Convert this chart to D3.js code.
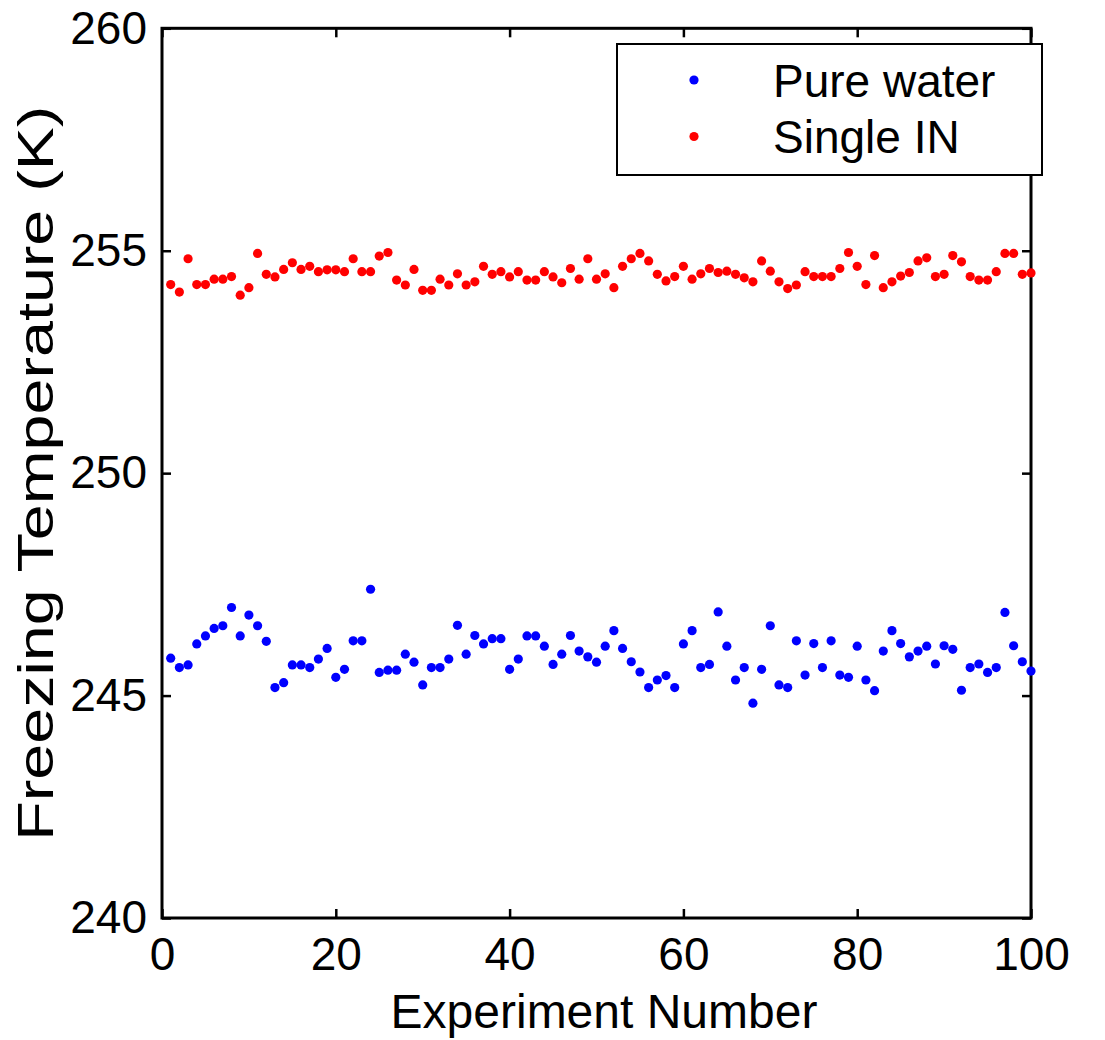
<!DOCTYPE html>
<html>
<head>
<meta charset="utf-8">
<script src="https://cdn.jsdelivr.net/npm/d3@7"></script>
<style>
    body { margin: 0; background: #fff; }
    text { font-family: "Liberation Sans", Arial, sans-serif; }
</style>
</head>
<body>
<svg id="chart"></svg>
<script>
var width = 1105, height = 1040

// freezing temperature (K) per experiment
var pureWater = [
    245.84, 245.63, 245.69, 246.16, 246.34, 246.51, 246.57, 246.98, 246.34, 246.81,
    246.57, 246.22, 245.18, 245.29, 245.69, 245.69, 245.63, 245.82, 246.06, 245.41,
    245.59, 246.23, 246.23, 247.39, 245.52, 245.57, 245.57, 245.93, 245.75, 245.24,
    245.63, 245.63, 245.82, 246.58, 245.93, 246.35, 246.16, 246.28, 246.28, 245.59,
    245.82, 246.34, 246.34, 246.11, 245.70, 245.93, 246.35, 246.00, 245.87, 245.75,
    246.11, 246.46, 246.06, 245.76, 245.53, 245.18, 245.35, 245.45, 245.18, 246.16,
    246.46, 245.63, 245.70, 246.88, 246.11, 245.35, 245.63, 244.83, 245.59, 246.57,
    245.24, 245.18, 246.23, 245.46, 246.17, 245.63, 246.23, 245.46, 245.41, 246.11,
    245.35, 245.11, 246.00, 246.46, 246.17, 245.87, 246.00, 246.11, 245.71, 246.12,
    246.04, 245.12, 245.63, 245.71, 245.52, 245.63, 246.87, 246.12, 245.76, 245.55
]
var singleIN = [
    254.24, 254.07, 254.82, 254.24, 254.24, 254.36, 254.36, 254.42, 254.00, 254.17,
    254.94, 254.47, 254.41, 254.58, 254.73, 254.58, 254.65, 254.53, 254.57, 254.57,
    254.53, 254.82, 254.53, 254.53, 254.88, 254.96, 254.34, 254.23, 254.58, 254.11,
    254.11, 254.36, 254.23, 254.48, 254.23, 254.30, 254.65, 254.47, 254.53, 254.41,
    254.53, 254.34, 254.34, 254.53, 254.41, 254.28, 254.60, 254.36, 254.82, 254.36,
    254.48, 254.17, 254.65, 254.82, 254.94, 254.77, 254.47, 254.32, 254.42, 254.65,
    254.36, 254.48, 254.60, 254.51, 254.54, 254.47, 254.39, 254.30, 254.77, 254.54,
    254.30, 254.15, 254.23, 254.53, 254.42, 254.42, 254.42, 254.60, 254.96, 254.65,
    254.24, 254.89, 254.17, 254.30, 254.43, 254.51, 254.77, 254.84, 254.42, 254.47,
    254.89, 254.75, 254.42, 254.34, 254.34, 254.53, 254.94, 254.94, 254.47, 254.50
]
var xTicks = [0, 20, 40, 60, 80, 100]
var yTicks = [240, 245, 250, 255, 260]
var seriesNames = ["Pure water", "Single IN"]
var seriesColors = ["#0000ff", "#ff0000"]

var margin = {left: 162, right: 1105 - 1031, top: 28.3, bottom: 1040 - 918}

var svg = d3.select("#chart")
    .attr("width", width)
    .attr("height", height)

var x = d3.scaleLinear()
    .domain([0, 100])
    .range([margin.left, width - margin.right])
var y = d3.scaleLinear()
    .domain([240, 260])
    .range([height - margin.bottom, margin.top])

var fontSize = 46

// ticks point inward on all four sides, labels only bottom/left
function styleAxis(g, labels) {
    g.select(".domain").remove()
    g.selectAll(".tick line").attr("stroke", "#000").attr("stroke-width", 2.5)
    if (labels) {
        g.selectAll(".tick text")
            .attr("fill", "#000")
            .attr("font-size", fontSize)
            .attr("font-family", "'Liberation Sans', Arial, sans-serif")
    } else {
        g.selectAll(".tick text").remove()
    }
}

svg.append("g")
    .attr("transform", "translate(0," + y(240) + ")")
    .call(d3.axisBottom(x).tickValues(xTicks).tickSizeInner(-9).tickSizeOuter(0).tickPadding(19))
    .call(g => styleAxis(g, true))
svg.append("g")
    .attr("transform", "translate(0," + y(260) + ")")
    .call(d3.axisTop(x).tickValues(xTicks).tickSizeInner(-9).tickSizeOuter(0))
    .call(g => styleAxis(g, false))
svg.append("g")
    .attr("transform", "translate(" + x(0) + ",0)")
    .call(d3.axisLeft(y).tickValues(yTicks).tickSizeInner(-9).tickSizeOuter(0).tickPadding(15))
    .call(g => styleAxis(g, true))
svg.append("g")
    .attr("transform", "translate(" + x(100) + ",0)")
    .call(d3.axisRight(y).tickValues(yTicks).tickSizeInner(-9).tickSizeOuter(0))
    .call(g => styleAxis(g, false))

svg.append("rect")
    .attr("x", x(0))
    .attr("y", y(260))
    .attr("width", x(100) - x(0))
    .attr("height", y(240) - y(260))
    .attr("fill", "none")
    .attr("stroke", "#000")
    .attr("stroke-width", 3)

var series = [pureWater, singleIN]
series.forEach(function(vals, k) {
    svg.append("g")
        .selectAll("circle")
        .data(vals)
        .enter()
        .append("circle")
            .attr("cx", (d, i) => x(i + 1))
            .attr("cy", d => y(d))
            .attr("r", 4.6)
            .attr("fill", seriesColors[k])
})

// axis titles
svg.append("text")
    .attr("x", 604)
    .attr("y", 1028)
    .attr("text-anchor", "middle")
    .attr("font-size", 48)
    .text("Experiment Number")
svg.append("text")
    .attr("transform", "translate(53," + y(250) + ") rotate(-90)")
    .attr("text-anchor", "middle")
    .attr("font-size", 50)
    .attr("textLength", 735)
    .attr("lengthAdjust", "spacingAndGlyphs")
    .text("Freezing Temperature (K)")

// legend
var legend = svg.append("g")
legend.append("rect")
    .attr("x", 617)
    .attr("y", 44)
    .attr("width", 425)
    .attr("height", 131)
    .attr("fill", "#fff")
    .attr("stroke", "#000")
    .attr("stroke-width", 2)
var rows = legend.selectAll("g.row")
    .data(seriesNames)
    .enter()
    .append("g")
        .attr("class", "row")
        .attr("transform", (d, i) => "translate(0," + (80 + i * 56.5) + ")")
rows.append("circle")
    .attr("cx", 694)
    .attr("cy", 0)
    .attr("r", 4.6)
    .attr("fill", (d, i) => seriesColors[i])
rows.append("text")
    .attr("x", 773)
    .attr("y", 16.5)
    .attr("font-size", fontSize)
    .text(d => d)
</script>
</body>
</html>
